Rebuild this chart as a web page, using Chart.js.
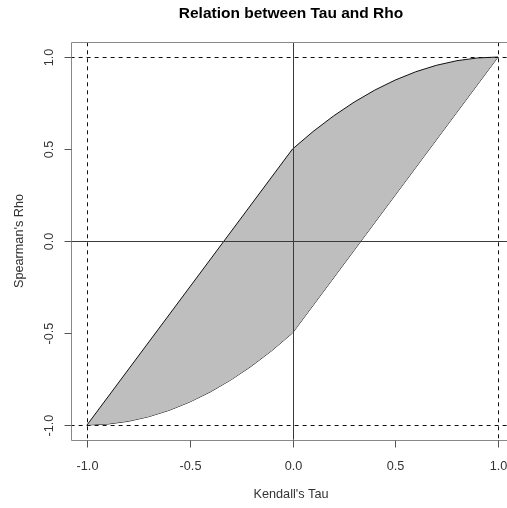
<!DOCTYPE html>
<html>
<head>
<meta charset="utf-8">
<script src="https://cdn.jsdelivr.net/npm/chart.js@4"></script>
<style>
  html, body { margin: 0; padding: 0; background: #fff; overflow: hidden; }
</style>
</head>
<body>
<canvas id="nchart" width="507" height="508"></canvas>
<script>
// upper bound of rho for given tau
let tauUpper = [-1.0, 0.0, 0.1, 0.2, 0.3, 0.4, 0.5, 0.6, 0.7, 0.8, 0.9, 1.0]
let rhoUpper = [-1.0, 0.5, 0.595, 0.68, 0.755, 0.82, 0.875, 0.92, 0.955, 0.98, 0.995, 1.0]
// lower bound
let tauLower = [-1.0, -0.9, -0.8, -0.7, -0.6, -0.5, -0.4, -0.3, -0.2, -0.1, 0.0, 1.0]
let rhoLower = [-1.0, -0.995, -0.98, -0.955, -0.92, -0.875, -0.82, -0.755, -0.68, -0.595, -0.5, 1.0]

let tickValues = [-1.0, -0.5, 0.0, 0.5, 1.0]
let tickLabels = ["-1.0", "-0.5", "0.0", "0.5", "1.0"]
let refLinesDashed = [-1, 1]
let refLinesSolid = [0]

let titleText = "Relation between Tau and Rho"
let xTitle = "Kendall's Tau"
let yTitle = "Spearman's Rho"

function pts(xs, ys){
    return xs.map((x, i) => ({x: x, y: ys[i]}))
}

// R style decorations: box, ticks, rotated y labels, ablines
let rDecor = {
    id: 'rDecor',
    afterDatasetsDraw(chart){
        let ctx = chart.ctx
        let a = chart.chartArea
        let xs = chart.scales.x
        let ys = chart.scales.y
        ctx.save()

        // dashed lines
        ctx.strokeStyle = '#111'
        ctx.lineWidth = 1
        ctx.setLineDash([4, 4])
        refLinesDashed.forEach(v => {
            let px = Math.round(xs.getPixelForValue(v)) + 0.5
            ctx.beginPath(); ctx.moveTo(px, a.top); ctx.lineTo(px, a.bottom); ctx.stroke()
            let py = Math.round(ys.getPixelForValue(v)) + 0.5
            ctx.beginPath(); ctx.moveTo(a.left, py); ctx.lineTo(a.right, py); ctx.stroke()
        })
        ctx.setLineDash([])

        // zero lines
        ctx.strokeStyle = '#3a3a3a'
        refLinesSolid.forEach(v => {
            let px = Math.round(xs.getPixelForValue(v)) + 0.5
            ctx.beginPath(); ctx.moveTo(px, a.top); ctx.lineTo(px, a.bottom); ctx.stroke()
            let py = Math.round(ys.getPixelForValue(v)) + 0.5
            ctx.beginPath(); ctx.moveTo(a.left, py); ctx.lineTo(a.right, py); ctx.stroke()
        })

        // box (right side is off the page)
        ctx.strokeStyle = '#888'
        let l = Math.round(a.left) + 0.5, t = Math.round(a.top) + 0.5, b = Math.round(a.bottom) + 0.5
        ctx.beginPath()
        ctx.moveTo(a.right + 10, t); ctx.lineTo(l, t); ctx.lineTo(l, b); ctx.lineTo(a.right + 10, b)
        ctx.stroke()

        // ticks + labels
        ctx.fillStyle = '#333'
        ctx.font = '12.7px "Liberation Sans", Arial, sans-serif'
        ctx.strokeStyle = '#555'
        tickValues.forEach((v, i) => {
            let px = Math.round(xs.getPixelForValue(v)) + 0.5
            ctx.beginPath(); ctx.moveTo(px, b); ctx.lineTo(px, b + 7); ctx.stroke()
            ctx.textAlign = 'center'
            ctx.textBaseline = 'middle'
            ctx.fillText(tickLabels[i], px, b + 25.5)

            let py = Math.round(ys.getPixelForValue(v)) + 0.5
            ctx.beginPath(); ctx.moveTo(l, py); ctx.lineTo(l - 7, py); ctx.stroke()
            ctx.save()
            ctx.translate(l - 22.5, py)
            ctx.rotate(-Math.PI / 2)
            ctx.fillText(tickLabels[i], 0, 0)
            ctx.restore()
        })

        // titles
        let cx = 291
        let cy = (a.top + a.bottom) / 2
        ctx.textAlign = 'center'
        ctx.textBaseline = 'middle'
        ctx.font = 'bold 15.5px "Liberation Sans", Arial, sans-serif'
        ctx.fillStyle = '#000'
        ctx.fillText(titleText, cx, 14)
        ctx.font = '12.7px "Liberation Sans", Arial, sans-serif'
        ctx.fillStyle = '#333'
        ctx.fillText(xTitle, cx, 494)
        ctx.save()
        ctx.translate(19, cy)
        ctx.rotate(-Math.PI / 2)
        ctx.fillText(yTitle, 0, 0)
        ctx.restore()

        ctx.restore()
    }
}

let ctx = document.getElementById('nchart')
let chartGraph = new Chart(ctx, {
    type: 'scatter',
    data: {
        datasets: [{
            data: pts(tauUpper, rhoUpper),
            showLine: true,
            borderColor: '#111',
            borderWidth: 1,
            backgroundColor: '#bebebe',
            pointRadius: 0,
            fill: '+1'
        }, {
            data: pts(tauLower, rhoLower),
            showLine: true,
            borderColor: '#111',
            borderWidth: 1,
            pointRadius: 0,
            fill: false
        }]
    },
    options: {
        responsive: false,
        devicePixelRatio: 1,
        animation: false,
        layout: { padding: { left: 70.6, right: 0, top: 42.3, bottom: 68.3 } },
        plugins: { legend: { display: false }, tooltip: { enabled: false } },
        scales: {
            x: { type: 'linear', display: false, min: -1.08, max: 1.0438 },
            y: { type: 'linear', display: false, min: -1.08, max: 1.08 }
        }
    },
    plugins: [rDecor]
})
</script>
</body>
</html>
